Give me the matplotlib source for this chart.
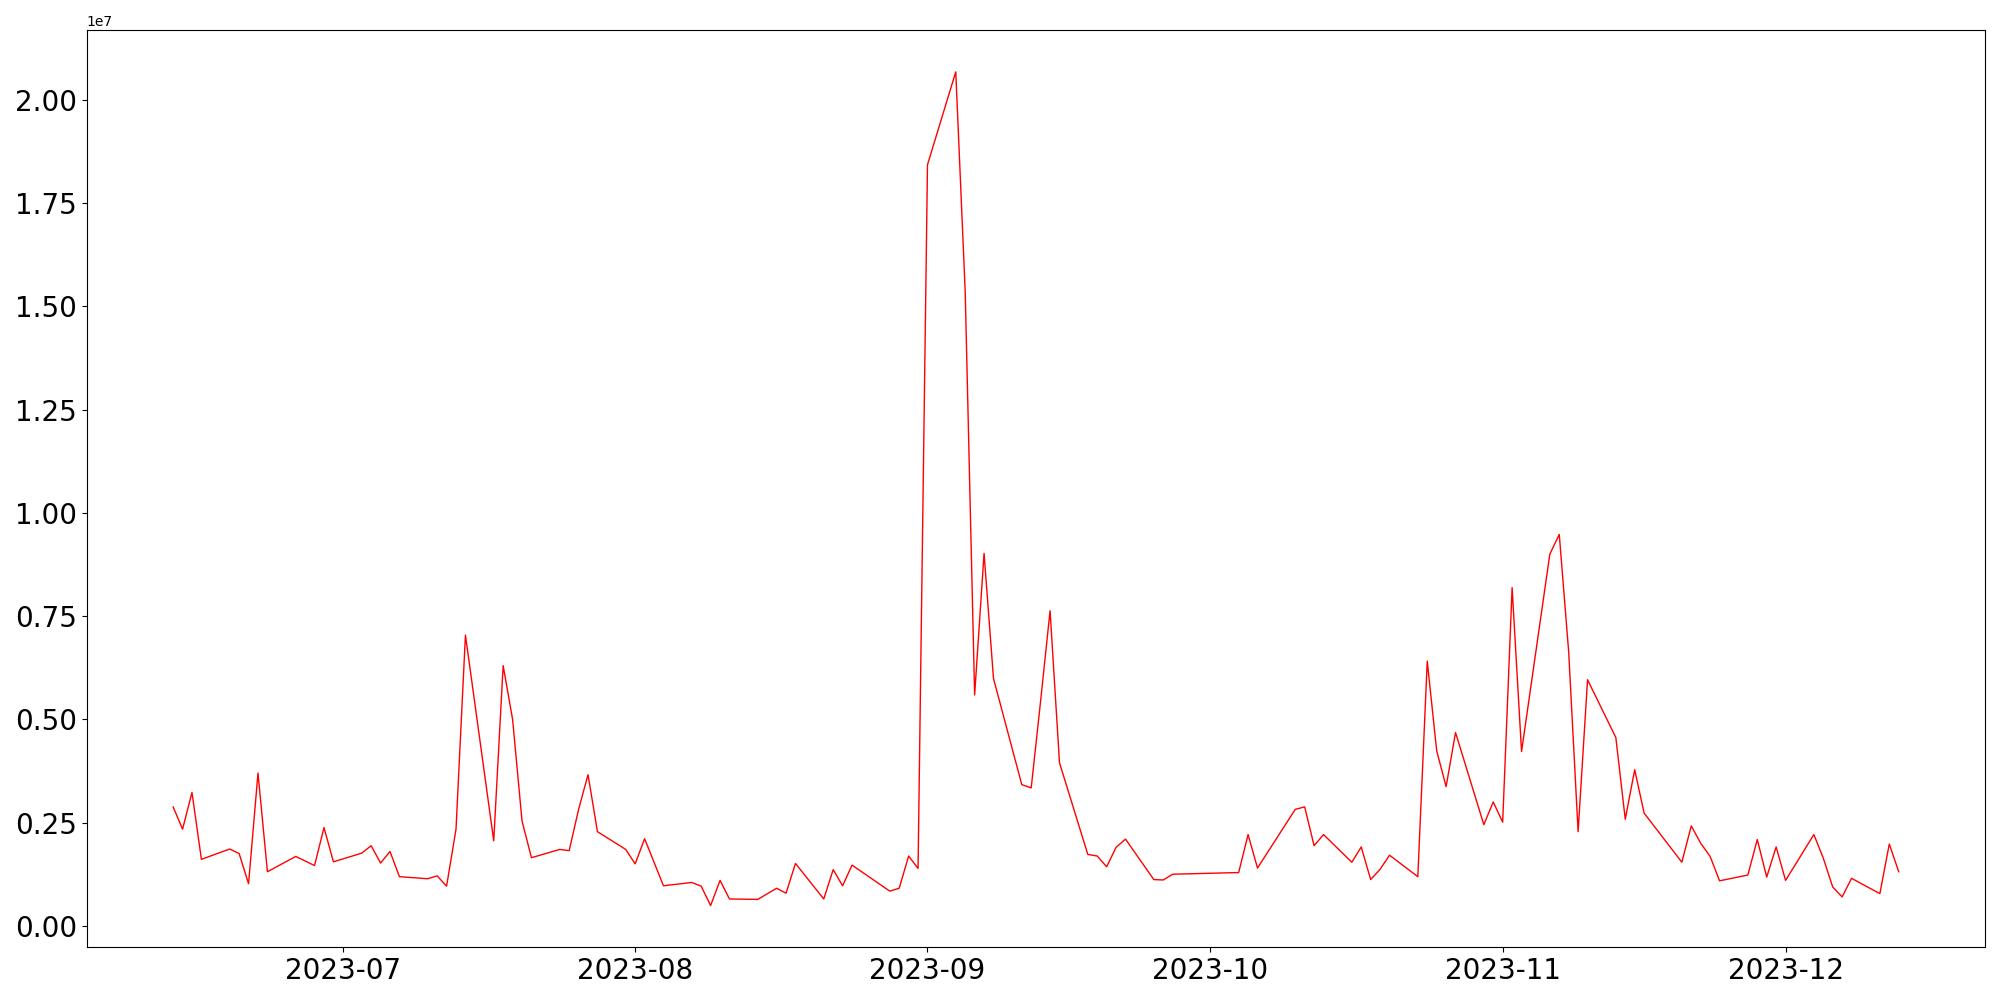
import matplotlib
matplotlib.use("Agg")
import matplotlib.pyplot as plt
import pandas as pd

dates = [
    "2023-06-13", "2023-06-14", "2023-06-15", "2023-06-16", "2023-06-19", "2023-06-20",
    "2023-06-21", "2023-06-22", "2023-06-23", "2023-06-26", "2023-06-28", "2023-06-29",
    "2023-06-30", "2023-07-03", "2023-07-04", "2023-07-05", "2023-07-06", "2023-07-07",
    "2023-07-10", "2023-07-11", "2023-07-12", "2023-07-13", "2023-07-14", "2023-07-17",
    "2023-07-18", "2023-07-19", "2023-07-20", "2023-07-21", "2023-07-24", "2023-07-25",
    "2023-07-26", "2023-07-27", "2023-07-28", "2023-07-31", "2023-08-01", "2023-08-02",
    "2023-08-04", "2023-08-07", "2023-08-08", "2023-08-09", "2023-08-10", "2023-08-11",
    "2023-08-14", "2023-08-16", "2023-08-17", "2023-08-18", "2023-08-21", "2023-08-22",
    "2023-08-23", "2023-08-24", "2023-08-28", "2023-08-29", "2023-08-30", "2023-08-31",
    "2023-09-01", "2023-09-04", "2023-09-05", "2023-09-06", "2023-09-07", "2023-09-08",
    "2023-09-11", "2023-09-12", "2023-09-13", "2023-09-14", "2023-09-15", "2023-09-18",
    "2023-09-19", "2023-09-20", "2023-09-21", "2023-09-22", "2023-09-25", "2023-09-26",
    "2023-09-27", "2023-10-04", "2023-10-05", "2023-10-06", "2023-10-10", "2023-10-11",
    "2023-10-12", "2023-10-13", "2023-10-16", "2023-10-17", "2023-10-18", "2023-10-19",
    "2023-10-20", "2023-10-23", "2023-10-24", "2023-10-25", "2023-10-26", "2023-10-27",
    "2023-10-30", "2023-10-31", "2023-11-01", "2023-11-02", "2023-11-03", "2023-11-06",
    "2023-11-07", "2023-11-08", "2023-11-09", "2023-11-10", "2023-11-13", "2023-11-14",
    "2023-11-15", "2023-11-16", "2023-11-20", "2023-11-21", "2023-11-22", "2023-11-23",
    "2023-11-24", "2023-11-27", "2023-11-28", "2023-11-29", "2023-11-30", "2023-12-01",
    "2023-12-04", "2023-12-05", "2023-12-06", "2023-12-07", "2023-12-08", "2023-12-11",
    "2023-12-12", "2023-12-13",
]

values_millions = [
    2.88, 2.34, 3.23, 1.61, 1.86, 1.75,
    1.02, 3.70, 1.31, 1.68, 1.46, 2.38,
    1.55, 1.76, 1.94, 1.52, 1.80, 1.19,
    1.14, 1.21, 0.96, 2.34, 7.04, 2.06,
    6.30, 5.00, 2.54, 1.65, 1.85, 1.82,
    2.82, 3.66, 2.28, 1.85, 1.50, 2.11,
    0.97, 1.05, 0.96, 0.49, 1.10, 0.65,
    0.64, 0.91, 0.79, 1.51, 0.65, 1.36,
    0.97, 1.47, 0.84, 0.91, 1.69, 1.39,
    18.43, 20.68, 15.36, 5.59, 9.02, 5.99,
    3.42, 3.34, 5.45, 7.63, 3.95, 1.73,
    1.69, 1.43, 1.90, 2.10, 1.12, 1.11,
    1.25, 1.29, 2.21, 1.40, 2.82, 2.88,
    1.94, 2.21, 1.54, 1.91, 1.12, 1.37,
    1.71, 1.19, 6.41, 4.24, 3.37, 4.68,
    2.45, 3.00, 2.51, 8.19, 4.22, 9.00,
    9.48, 6.63, 2.28, 5.96, 4.56, 2.58,
    3.78, 2.73, 1.54, 2.42, 2.00, 1.68,
    1.09, 1.23, 2.09, 1.18, 1.91, 1.10,
    2.21, 1.64, 0.94, 0.70, 1.15, 0.78,
    1.98, 1.31,
]

x = pd.to_datetime(dates)
y = [v * 1e6 for v in values_millions]

fig, ax = plt.subplots(figsize=(20, 10), dpi=100)
ax.plot(x, y, color="red", linewidth=1.0)
ax.tick_params(axis="both", labelsize=20)
fig.tight_layout()
fig.savefig("out.png")
